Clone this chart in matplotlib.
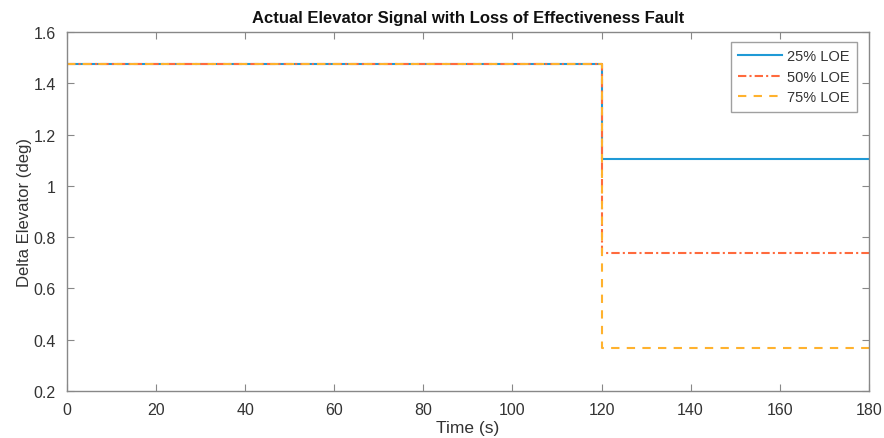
import matplotlib
matplotlib.use('Agg')
import matplotlib.pyplot as plt

# Elevator command with loss-of-effectiveness fault injected at t = 120 s
t_end = 180
t_fault = 120
nominal = 1.475
faulted = {'25% LOE': 1.106, '50% LOE': 0.7375, '75% LOE': 0.369}

colors = {'25% LOE': '#1f9ad6', '50% LOE': '#ff6a3d', '75% LOE': '#ffb22e'}
dashes = {'25% LOE': None, '50% LOE': (4, 1.5, 1, 1.5), '75% LOE': (4, 3.5)}

plt.rcParams['font.family'] = ['Liberation Sans', 'DejaVu Sans']

fig = plt.figure(figsize=(8.84, 4.39), dpi=100)
ax = fig.add_axes([0.0758, 0.107, 0.907, 0.818])

for name, val in faulted.items():
    t = [0, t_fault, t_fault, t_end]
    y = [nominal, nominal, val, val]
    line, = ax.plot(t, y, color=colors[name], linewidth=1.5, label=name)
    if dashes[name] is not None:
        line.set_dashes(dashes[name])

ax.set_xlim(0, 180)
ax.set_ylim(0.2, 1.6)
ax.set_xticks(range(0, 181, 20))
ax.set_yticks([0.2, 0.4, 0.6, 0.8, 1.0, 1.2, 1.4, 1.6])
ax.set_yticklabels(['0.2', '0.4', '0.6', '0.8', '1', '1.2', '1.4', '1.6'])

for sp in ax.spines.values():
    sp.set_color('#888888')
    sp.set_linewidth(1.0)
ax.tick_params(direction='in', length=5, colors='#888888', labelcolor='#333333',
               labelsize=11.5, top=True, right=True, pad=8)

ax.set_xlabel('Time (s)', fontsize=12.5, color='#333333', labelpad=2)
ax.set_ylabel('Delta Elevator (deg)', fontsize=12, color='#333333', labelpad=1)
ax.set_title('Actual Elevator Signal with Loss of Effectiveness Fault',
             fontsize=12, fontweight='bold', color='#111111', pad=7)

leg = ax.legend(loc='upper right', fontsize=10.5, frameon=True, fancybox=False,
                handlelength=3.0, handletextpad=0.35, borderpad=0.5,
                labelspacing=0.45, borderaxespad=0,
                bbox_to_anchor=(0.985, 0.972))
leg.get_frame().set_edgecolor('#888888')
leg.get_frame().set_linewidth(1.0)
for txt in leg.get_texts():
    txt.set_color('#333333')

fig.savefig('out.png', dpi=100)
